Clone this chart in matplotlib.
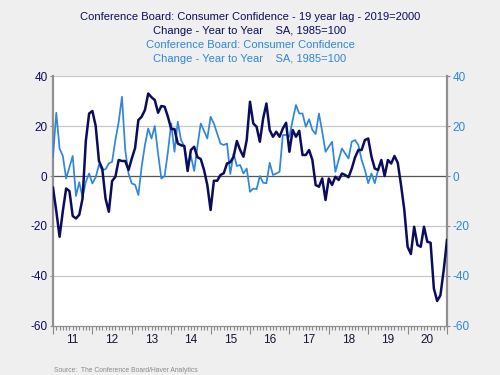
import matplotlib
matplotlib.use("Agg")
import matplotlib.pyplot as plt
import numpy as np

plt.rcParams['font.family'] = ['Liberation Sans', 'DejaVu Sans']

# Monthly series, starting Jan 2011
lag_values = [
    -4.7, -14, -24.3, -14, -5, -6, -16, -17, -15.5, -9,
    14, 25, 26, 20, 6, 3, -9, -14.3, -2, -0.3,
    6.4, 6, 6, 2.4, 7, 11.2, 22.4, 23.7, 26.4, 33,
    31.5, 30.4, 25.3, 28, 27.7, 23.7, 18.8, 18.8, 13, 12.3,
    12, 2, 10.4, 11.7, 7.5, 6.8, 2.4, -3.6, -13.6, -1.9,
    -1.9, 0.4, 1.1, 5, 5.5, 7.7, 14, 10.4, 7.7, 14.4,
    29.7, 21, 19.7, 13.7, 23, 29, 18.4, 15.7, 17.7, 15.7,
    19, 21.3, 9.7, 18.4, 15.7, 18.1, 8.4, 8.4, 10.4, 6.4,
    -3.6, -4.3, -1, -9.6, -1, -3.6, -0.3, -1.6, 1, 0.4,
    -0.5, 3, 7.5, 10.4, 10.4, 14.4, 15, 7.7, 3, 2.4,
    6.4, 0, 6.4, 5, 8, 5.3, -3.6, -13.6, -28.3, -31.2,
    -20.3, -27.6, -28.3, -20.3, -26.3, -26.7, -45, -50, -47.7, -37.6,
    -25.6,
]
cc_values = [
    7.7, 25.3, 11, 8, -1, 3.5, 8, -8, -2.5, -8.5,
    -2.3, 1, -3, -0.5, 4.5, 2.4, 2.7, 5, 5.7, 14.4,
    21.5, 31.7, 10.4, 1, -3, -3.5, -7.6, 3.7, 12.4, 19,
    15, 20, 9, -1, 0, 9.7, 21, 9.7, 21.7, 14.4,
    11.7, 4.4, 8, 2, 12, 21, 18, 15, 23.7, 21,
    17, 13, 12.4, 13, 0.8, 9, 4, 4.4, 1, 3,
    -6.3, -5, -5.3, 0, -2.7, -2.9, 5.3, 0.4, 1, 1.7,
    16.4, 16.4, 15.7, 22.4, 28.4, 25, 25, 19.7, 22.7, 18.4,
    16.8, 25, 17.7, 9.7, 11.7, 13.7, 1.7, 6.4, 11, 9,
    7, 13.7, 14.4, 12.4, 6.4, 2.4, -2.9, 1, -2.9, 2.4,
]
year_labels = ['11', '12', '13', '14', '15', '16', '17', '18', '19', '20']
y_ticks = [40, 20, 0, -20, -40, -60]

navy = '#0c0c5c'
light = '#2f86da'

x_lag = 2011 + np.arange(len(lag_values)) / 12.0
x_cc = 2011 + np.arange(len(cc_values)) / 12.0

fig = plt.figure(figsize=(5, 3.75), dpi=100, facecolor='#efefef')
ax = fig.add_axes([0.106, 0.1307, 0.788, 0.6666])
ax.set_facecolor('white')

for v in [40, 20, -20, -40]:
    ax.axhline(v, color='#c8c8c8', lw=0.9, zorder=1)
ax.axhline(0, color='#555555', lw=0.9, zorder=1)

ax.plot(x_cc, cc_values, color=light, lw=1.25, zorder=3)
ax.plot(x_lag, lag_values, color=navy, lw=1.8, zorder=4)

ax.set_xlim(2011, 2021)
ax.set_ylim(-60, 40)

# x ticks: monthly, long at year starts, labels at mid-year
months = 2011 + np.arange(0, 121) / 12.0
ax.set_xticks(months)
labels = []
for i in range(121):
    if i % 12 == 6 and i // 12 < len(year_labels):
        labels.append(year_labels[i // 12])
    else:
        labels.append('')
ax.set_xticklabels(labels)
ax.tick_params(axis='x', direction='out', length=3, width=0.8, color='#888888',
               labelsize=8.5, labelcolor='#151535', pad=3)
for i, t in enumerate(ax.xaxis.get_major_ticks()):
    if i % 12 == 0:
        t.tick1line.set_markersize(6)

ax.set_yticks(y_ticks)
ax.set_yticklabels([str(v) for v in y_ticks])
ax.tick_params(axis='y', direction='out', length=2, width=0.8, color='#888888',
               labelsize=8.5, labelcolor=navy, pad=2)

ax.spines['top'].set_visible(False)
for s in ['left', 'right', 'bottom']:
    ax.spines[s].set_color('#909090')
ax.spines['left'].set_linewidth(1.6)
ax.spines['right'].set_linewidth(1.6)
ax.spines['bottom'].set_linewidth(0.9)

ax2 = ax.twinx()
ax2.set_ylim(-60, 40)
ax2.set_yticks(y_ticks)
ax2.set_yticklabels([str(v) for v in y_ticks])
ax2.tick_params(axis='y', direction='out', length=2, width=0.8, color='#888888',
                labelsize=8.5, labelcolor=light, pad=2)
for s in ['top', 'left', 'bottom', 'right']:
    ax2.spines[s].set_visible(False)

fs = 8.0
fig.text(0.5, 1 - 17 / 375, 'Conference Board: Consumer Confidence - 19 year lag - 2019=2000',
         ha='center', va='center', color=navy, fontsize=fs)
fig.text(0.5, 1 - 31 / 375, 'Change - Year to Year    SA, 1985=100',
         ha='center', va='center', color=navy, fontsize=fs)
fig.text(0.5, 1 - 45 / 375, 'Conference Board: Consumer Confidence',
         ha='center', va='center', color=light, fontsize=fs)
fig.text(0.5, 1 - 59 / 375, 'Change - Year to Year    SA, 1985=100',
         ha='center', va='center', color=light, fontsize=fs)
fig.text(54 / 500, 1 - 371 / 375, 'Source:  The Conference Board/Haver Analytics',
         ha='left', va='center', color='#8a8a8a', fontsize=4.9)

fig.savefig('out.png', dpi=100, facecolor=fig.get_facecolor())
